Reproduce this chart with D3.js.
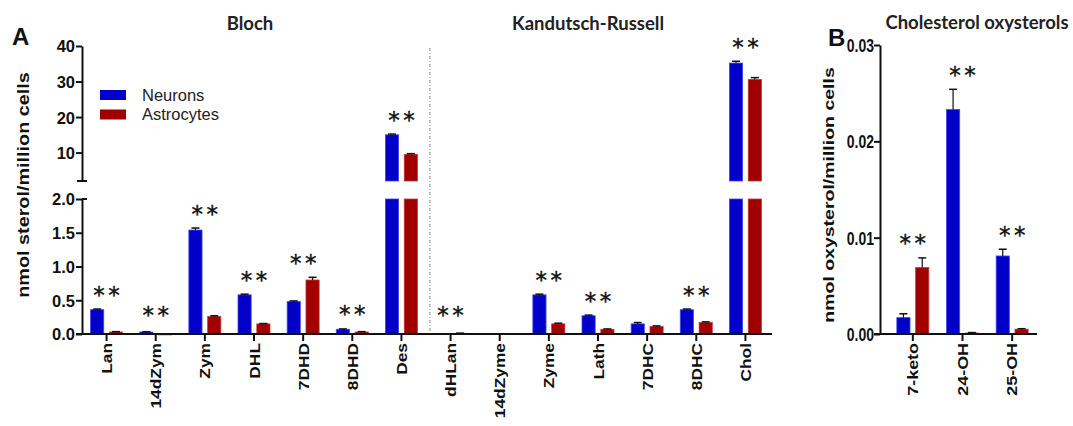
<!DOCTYPE html>
<html>
<head>
<meta charset="utf-8">
<script src="https://cdn.jsdelivr.net/npm/d3@7"></script>
<style>
  html, body { margin: 0; padding: 0; background: #fff; }
  svg { display: block; }
  .axis path, .axis line { stroke: #111; stroke-width: 2; }
  .axis text { font-family: "Liberation Sans", Arial, sans-serif; font-weight: bold; fill: #111; }
</style>
</head>
<body>
<svg id="chart" width="1073" height="426"></svg>
<script>
// Sterol intermediates (nmol / million cells)
const categoriesA = ["Lan", "14dZym", "Zym", "DHL", "7DHD", "8DHD", "Des",
                     "dHLan", "14dZyme", "Zyme", "Lath", "7DHC", "8DHC", "Chol"];
const neuronsA    = [0.36, 0.03, 1.54, 0.58, 0.48, 0.07, 15.0, 0.003, 0, 0.58, 0.27, 0.15, 0.36, 35.2];
const astrocytesA = [0.03, 0.005, 0.26, 0.15, 0.80, 0.03, 9.5, 0.01, 0, 0.15, 0.07, 0.11, 0.17, 30.6];
const neuronErrA  = [0.01, 0.004, 0.03, 0.01, 0.01, 0.005, 0.2, 0, 0, 0.01, 0.01, 0.02, 0.01, 0.5];
const astroErrA   = [0.005, 0, 0.01, 0.005, 0.04, 0.005, 0.2, 0.003, 0, 0.01, 0.005, 0.01, 0.01, 0.5];
const signifA     = [true, true, true, true, true, true, true, true, false, true, true, false, true, true];
const ticksLowA   = [0, 0.5, 1.0, 1.5, 2.0];
const ticksHighA  = [10, 20, 30, 40];

// Cholesterol oxysterols (nmol / million cells)
const categoriesB = ["7-keto", "24-OH", "25-OH"];
const neuronsB    = [0.0017, 0.0233, 0.0081];
const astrocytesB = [0.0069, 0.0001, 0.0005];
const neuronErrB  = [0.0004, 0.0021, 0.0007];
const astroErrB   = [0.0010, 0.00005, 0.00005];
const signifB     = [true, true, true];
const ticksB      = [0, 0.01, 0.02, 0.03];

const seriesNames = ["Neurons", "Astrocytes"];
const colors = { fill: ["#0000c8", "#a00000"], edge: ["#4646ee", "#c43a3a"] };

const svg = d3.select("#chart");
const FONT = '"Liberation Sans", Arial, sans-serif';
const TITLE_FONT = 'Lato, "Open Sans", sans-serif';

// rotated labels are drawn slightly elongated along their baseline
function rotatedAxisLabels(axisG, size, stretch) {
  axisG.selectAll(".tick text")
    .attr("transform", `rotate(-90) scale(${stretch},1)`)
    .attr("text-anchor", "end")
    .attr("x", -9 / stretch).attr("y", 0).attr("dy", "0.36em")
    .style("font-size", size + "px");
}
function verticalTitle(g, x, y, size, stretch, label) {
  g.append("text")
    .attr("transform", `translate(${x},${y}) rotate(-90) scale(${stretch},1)`)
    .attr("text-anchor", "middle").attr("dy", "0.36em")
    .attr("font-family", FONT).attr("font-weight", "bold").attr("font-size", size)
    .attr("fill", "#111")
    .text(label);
}

// ---------- Panel A: broken y axis ----------
const xA = d3.scaleBand().domain(categoriesA).range([82, 770]).padding(0);
const sub = d3.scaleBand().domain(seriesNames).range([-16, 16]).paddingInner(0.3);
const yLow = d3.scaleLinear().domain([0, 2]).range([334, 199]);
const yHigh = d3.scaleLinear().domain([2, 40]).range([181, 46]);
const yA = v => v <= 2 ? yLow(v) : yHigh(v);

const gA = svg.append("g");

// separator between the two pathways
const sepX = xA("dHLan") + xA.bandwidth() * 0.08;
gA.append("line")
  .attr("x1", sepX).attr("x2", sepX).attr("y1", 48).attr("y2", 332)
  .attr("stroke", "#8a8a8a").attr("stroke-width", 1)
  .attr("stroke-dasharray", "3,2,1,2");

function barsFor(g, xs, cats, values, errs, seriesIdx, yFn, splitAt, yBase, yBreakLow, yBreakHigh) {
  cats.forEach((c, i) => {
    const v = values[i];
    const x0 = xs(c) + xs.bandwidth() / 2 + sub(seriesNames[seriesIdx]);
    const w = sub.bandwidth();
    const pieces = [];
    if (splitAt !== null && v > splitAt) {
      pieces.push([yBreakLow, yBase]);
      pieces.push([yFn(v), yBreakHigh]);
    } else {
      pieces.push([yFn(v), yBase]);
    }
    pieces.forEach(([top, bot]) => {
      if (bot - top < 0.3) return;
      g.append("rect")
        .attr("x", x0).attr("y", top)
        .attr("width", w).attr("height", Math.max(bot - top, 1.2))
        .attr("fill", colors.fill[seriesIdx])
        .attr("stroke", colors.edge[seriesIdx]).attr("stroke-width", 0.8);
    });
    if (errs[i] > 0) {
      const yt = yFn(v + errs[i]);
      const yb = yFn(v);
      const cx = x0 + w / 2;
      g.append("line").attr("x1", cx).attr("x2", cx).attr("y1", yt).attr("y2", yb)
        .attr("stroke", "#111").attr("stroke-width", 1.2);
      g.append("line").attr("x1", cx - 4).attr("x2", cx + 4).attr("y1", yt).attr("y2", yt)
        .attr("stroke", "#111").attr("stroke-width", 1.5);
    }
  });
}

function stars(g, xs, cats, nVals, aVals, nErr, aErr, flags, yFn) {
  cats.forEach((c, i) => {
    if (!flags[i]) return;
    const top = Math.min(yFn(nVals[i] + nErr[i]), yFn(aVals[i] + aErr[i]));
    const cy = Math.min(top - 19, 310);
    const cx = xs(c) + xs.bandwidth() / 2;
    [-7.5, 7.5].forEach(dx => {
      g.append("text")
        .attr("x", cx + dx).attr("y", cy + 12.5)
        .attr("text-anchor", "middle")
        .attr("font-family", "DejaVu Sans, sans-serif")
        .attr("font-size", 23)
        .attr("stroke", "#111").attr("stroke-width", 0.4)
        .attr("fill", "#111")
        .text("*");
    });
  });
}

barsFor(gA, xA, categoriesA, neuronsA, neuronErrA, 0, yA, 2, 334, 199, 181);
barsFor(gA, xA, categoriesA, astrocytesA, astroErrA, 1, yA, 2, 334, 199, 181);
stars(gA, xA, categoriesA, neuronsA, astrocytesA, neuronErrA, astroErrA, signifA, yA);

// y axes (lower and upper segments)
const axLow = gA.append("g").attr("class", "axis").attr("transform", "translate(82,0)")
  .call(d3.axisLeft(yLow).tickValues(ticksLowA).tickFormat(d3.format(".1f")).tickSize(6).tickSizeOuter(0));
const axHigh = gA.append("g").attr("class", "axis").attr("transform", "translate(82,0)")
  .call(d3.axisLeft(yHigh).tickValues(ticksHighA).tickFormat(d3.format("d")).tickSize(6).tickSizeOuter(0));
[axLow, axHigh].forEach(a => a.selectAll(".tick text")
  .attr("x", -7).attr("dy", "0.36em").style("font-size", "16.5px"));
// end caps at the break
gA.append("line").attr("x1", 77).attr("x2", 87).attr("y1", yHigh(2)).attr("y2", yHigh(2))
  .attr("stroke", "#111").attr("stroke-width", 2);
gA.append("line").attr("x1", 82).attr("x2", 87).attr("y1", yLow(2)).attr("y2", yLow(2))
  .attr("stroke", "#111").attr("stroke-width", 2);

// x axis
const axXA = gA.append("g").attr("class", "axis").attr("transform", "translate(0,334)")
  .call(d3.axisBottom(xA).tickSize(7).tickSizeOuter(0));
axXA.select(".domain").attr("d", "M76,0H772");
rotatedAxisLabels(axXA, 15.5, 1.12);

// y label
verticalTitle(gA, 23, 185, 16.5, 1.2, "nmol sterol/million cells");

// legend
seriesNames.forEach((name, i) => {
  const ly = 90 + i * 19.5;
  gA.append("rect").attr("x", 100).attr("y", ly).attr("width", 26).attr("height", 10)
    .attr("fill", colors.fill[i]);
  gA.append("text").attr("x", 142).attr("y", ly + 5).attr("dy", "0.36em")
    .attr("font-family", FONT).attr("font-size", 16.5).attr("fill", "#222")
    .text(name);
});

// section titles and panel letter
gA.append("text").attr("x", 250).attr("y", 30).attr("text-anchor", "middle")
  .attr("font-family", TITLE_FONT).attr("font-weight", "bold").attr("font-size", 18.5)
  .attr("fill", "#222").text("Bloch");
gA.append("text").attr("x", 588).attr("y", 30).attr("text-anchor", "middle")
  .attr("font-family", TITLE_FONT).attr("font-weight", "bold").attr("font-size", 18.5)
  .attr("fill", "#222").text("Kandutsch-Russell");
gA.append("text").attr("x", 12).attr("y", 45)
  .attr("font-family", FONT).attr("font-weight", "bold").attr("font-size", 24)
  .attr("fill", "#111").text("A");

// ---------- Panel B ----------
const gB = svg.append("g");
const xB = d3.scaleBand().domain(categoriesB).range([888, 1037]).padding(0);
const yB = d3.scaleLinear().domain([0, 0.03]).range([334, 45]);

barsFor(gB, xB, categoriesB, neuronsB, neuronErrB, 0, yB, null, 334);
barsFor(gB, xB, categoriesB, astrocytesB, astroErrB, 1, yB, null, 334);
stars(gB, xB, categoriesB, neuronsB, astrocytesB, neuronErrB, astroErrB, signifB, yB);

const axYB = gB.append("g").attr("class", "axis").attr("transform", "translate(880,0)")
  .call(d3.axisLeft(yB).tickValues(ticksB).tickFormat(d3.format(".2f")).tickSize(6).tickSizeOuter(0));
axYB.selectAll(".tick text")
  .attr("x", -6).attr("dy", "0.36em")
  .attr("transform", "scale(1,1.3)")
  .style("font-size", "14px");

const axXB = gB.append("g").attr("class", "axis").attr("transform", "translate(0,334)")
  .call(d3.axisBottom(xB).tickSize(7).tickSizeOuter(0));
axXB.select(".domain").attr("d", "M874,0H1037");
rotatedAxisLabels(axXB, 14, 1.28);

verticalTitle(gB, 829, 195, 15, 1.3, "nmol oxysterol/million cells");

gB.append("text").attr("x", 977).attr("y", 29).attr("text-anchor", "middle")
  .attr("font-family", TITLE_FONT).attr("font-weight", "bold").attr("font-size", 18.5)
  .attr("fill", "#222").text("Cholesterol oxysterols");
gB.append("text").attr("x", 828).attr("y", 46)
  .attr("font-family", FONT).attr("font-weight", "bold").attr("font-size", 24)
  .attr("fill", "#111").text("B");
</script>
</body>
</html>
